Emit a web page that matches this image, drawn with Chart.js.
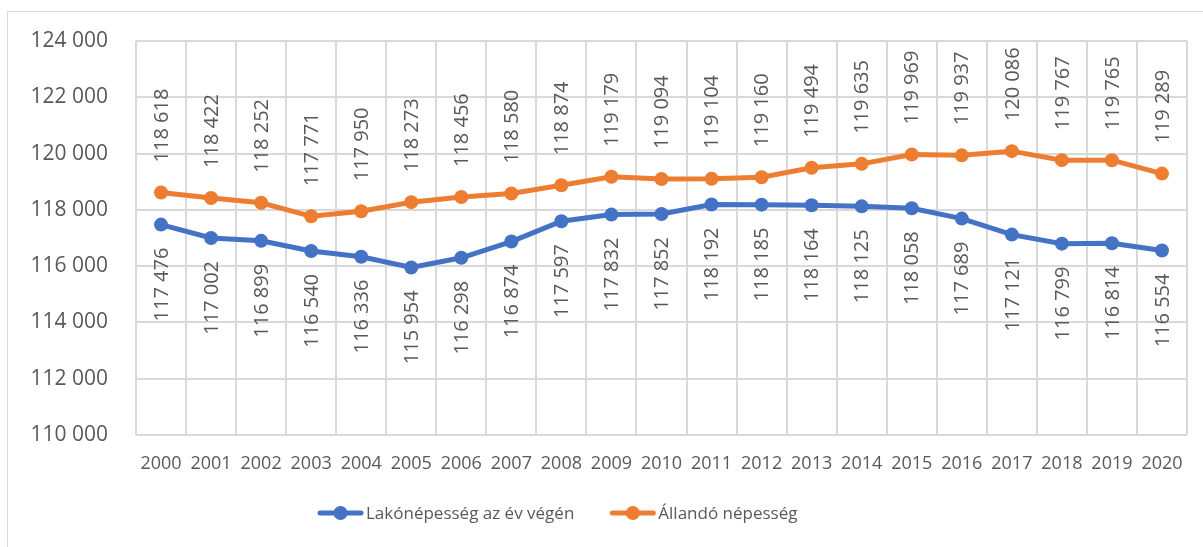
<!DOCTYPE html>
<html lang="hu">
<head>
<meta charset="utf-8">
<title>Népesség 2000–2020</title>
<script src="https://cdn.jsdelivr.net/npm/chart.js@4.4.1/dist/chart.umd.min.js"></script>
<style>
  html, body { margin: 0; padding: 0; background: #fff; overflow: hidden; }
  #wrap { position: relative; width: 1203px; height: 547px; }
  #frame { position: absolute; left: 7px; top: 11px; width: 1300px; height: 600px; border: 1px solid #d9d9d9; box-sizing: border-box; }
  canvas { position: absolute; left: 0; top: 0; }
</style>
</head>
<body>
<div id="wrap">
  <div id="frame"></div>
  <canvas id="nepesseg" width="1203" height="547"></canvas>
</div>
<script>
const evek = ['2000', '2001', '2002', '2003', '2004', '2005', '2006', '2007', '2008', '2009', '2010',
  '2011', '2012', '2013', '2014', '2015', '2016', '2017', '2018', '2019', '2020'];
const lakonepesseg = [117476, 117002, 116899, 116540, 116336, 115954, 116298, 116874, 117597, 117832, 117852,
  118192, 118185, 118164, 118125, 118058, 117689, 117121, 116799, 116814, 116554];
const allandoNepesseg = [118618, 118422, 118252, 117771, 117950, 118273, 118456, 118580, 118874, 119179, 119094,
  119104, 119160, 119494, 119635, 119969, 119937, 120086, 119767, 119765, 119289];
const yMin = 110000;
const yMax = 124000;
const yLepes = 2000;

const KEK = '#4472C4';
const NARANCS = '#ED7D31';
const SZOVEG = '#595959';
const RACS = '#d9d9d9';
const BETU = "'Open Sans', 'Noto Sans', sans-serif";

// szóközös ezres tagolás
function ezres(v) {
  return String(v).replace(/\B(?=(\d{3})+(?!\d))/g, ' ');
}

// függőleges adatfeliratok
const adatFeliratok = {
  id: 'adatFeliratok',
  afterDatasetsDraw(chart) {
    const ctx = chart.ctx;
    ctx.save();
    ctx.font = '20px ' + BETU;
    ctx.fillStyle = SZOVEG;
    ctx.textBaseline = 'middle';
    chart.data.datasets.forEach((ds, i) => {
      const meta = chart.getDatasetMeta(i);
      const felul = ds.felirat === 'felul';
      meta.data.forEach((pont, j) => {
        ctx.save();
        ctx.translate(pont.x, felul ? pont.y - 30 : pont.y + 23);
        ctx.rotate(-Math.PI / 2);
        ctx.textAlign = felul ? 'left' : 'right';
        ctx.fillText(ezres(ds.data[j]), 0, 1);
        ctx.restore();
      });
    });
    ctx.restore();
  }
};

// jelmagyarázat alul: vonal ponttal, mellette a sorozat neve
const jelmagyarazat = {
  id: 'jelmagyarazat',
  afterDraw(chart) {
    const ctx = chart.ctx;
    const y = 513;
    let x = 318;
    ctx.save();
    ctx.font = '17px ' + BETU;
    ctx.textBaseline = 'middle';
    ctx.textAlign = 'left';
    chart.data.datasets.forEach(ds => {
      ctx.strokeStyle = ds.borderColor;
      ctx.fillStyle = ds.borderColor;
      ctx.lineWidth = 5;
      ctx.lineCap = 'round';
      ctx.beginPath();
      ctx.moveTo(x + 2, y);
      ctx.lineTo(x + 43, y);
      ctx.stroke();
      ctx.beginPath();
      ctx.arc(x + 22.5, y, 7, 0, Math.PI * 2);
      ctx.fill();
      ctx.fillStyle = SZOVEG;
      ctx.fillText(ds.label, x + 48, y + 1);
      x += 48 + ctx.measureText(ds.label).width + 36;
    });
    ctx.restore();
  }
};

new Chart(document.getElementById('nepesseg'), {
  type: 'line',
  data: {
    labels: evek,
    datasets: [
      {
        label: 'Lakónépesség az év végén',
        data: lakonepesseg,
        borderColor: KEK,
        backgroundColor: KEK,
        borderWidth: 5,
        pointRadius: 7,
        pointHoverRadius: 7,
        pointBorderWidth: 0,
        tension: 0,
        felirat: 'alul'
      },
      {
        label: 'Állandó népesség',
        data: allandoNepesseg,
        borderColor: NARANCS,
        backgroundColor: NARANCS,
        borderWidth: 5,
        pointRadius: 7,
        pointHoverRadius: 7,
        pointBorderWidth: 0,
        tension: 0,
        felirat: 'felul'
      }
    ]
  },
  options: {
    responsive: false,
    animation: false,
    layout: { padding: { left: 0, right: 16, top: 41, bottom: 60 } },
    plugins: {
      tooltip: { enabled: false },
      legend: { display: false }
    },
    scales: {
      x: {
        offset: true,
        grid: { offset: true, color: RACS, lineWidth: 2, drawTicks: false },
        border: { display: false },
        ticks: { color: SZOVEG, font: { family: BETU, size: 18 }, padding: 18, maxRotation: 0, autoSkip: false },
        afterFit(scale) { scale.height = 52; }
      },
      y: {
        min: yMin,
        max: yMax,
        grid: { color: RACS, lineWidth: 2, drawTicks: false },
        border: { display: false },
        ticks: {
          stepSize: yLepes,
          color: SZOVEG,
          font: { family: BETU, size: 21 },
          padding: 28,
          callback: v => ezres(v)
        },
        afterFit(scale) { scale.width = 136; }
      }
    }
  },
  plugins: [adatFeliratok, jelmagyarazat]
});
</script>
</body>
</html>
